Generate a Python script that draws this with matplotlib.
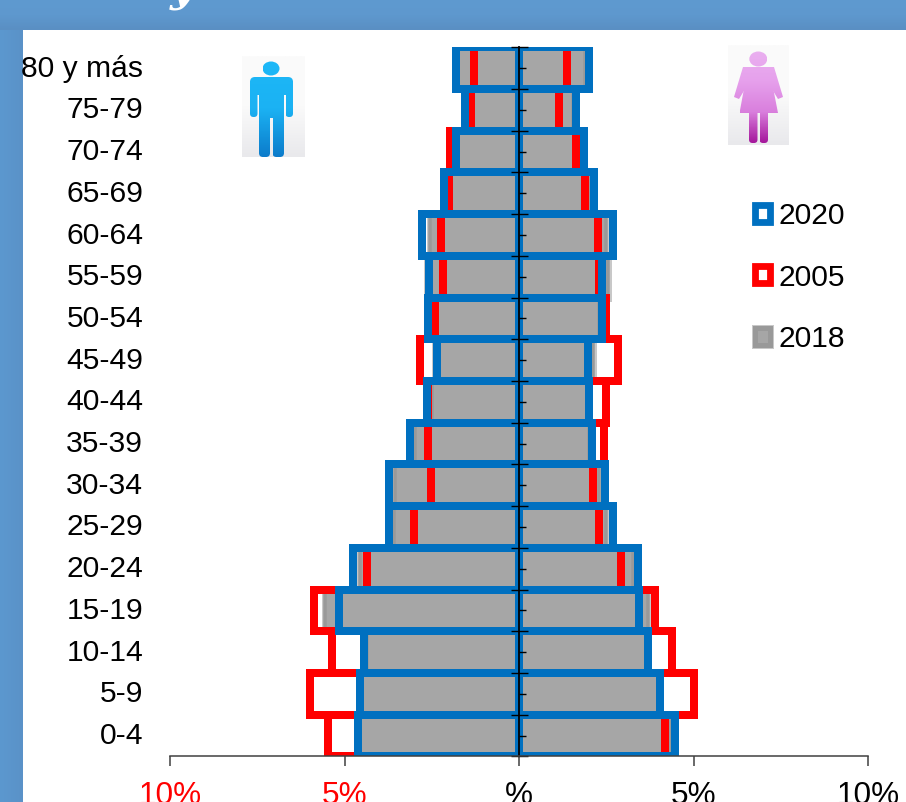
import numpy as np
import matplotlib
matplotlib.use("Agg")
import matplotlib.pyplot as plt
import matplotlib.patheffects as pe
from matplotlib.patches import Rectangle, FancyBboxPatch, Patch
from matplotlib.path import Path
from matplotlib.transforms import Affine2D, ScaledTranslation
from matplotlib.colors import LinearSegmentedColormap

plt.rcParams['font.family'] = ['Liberation Sans', 'DejaVu Sans']

age_groups = ['0-4', '5-9', '10-14', '15-19', '20-24', '25-29', '30-34', '35-39', '40-44',
              '45-49', '50-54', '55-59', '60-64', '65-69', '70-74', '75-79', '80 y más']
men_2020 = [4.63, 4.56, 4.44, 5.16, 4.76, 3.73, 3.72, 3.13, 2.65, 2.35, 2.60, 2.58, 2.79, 2.16, 1.80, 1.55, 1.82]
women_2020 = [4.46, 4.04, 3.70, 3.44, 3.41, 2.68, 2.45, 2.10, 2.00, 1.98, 2.37, 2.38, 2.68, 2.15, 1.86, 1.63, 2.00]
men_2005 = [5.47, 6.00, 5.36, 5.87, 4.35, 3.02, 2.54, 2.62, 2.60, 2.85, 2.42, 2.19, 2.23, 2.00, 1.99, 1.38, 1.30]
women_2005 = [4.17, 5.01, 4.38, 3.88, 2.91, 2.30, 2.12, 2.44, 2.50, 2.84, 2.48, 2.30, 2.26, 1.90, 1.62, 1.15, 1.36]
men_2018 = [4.55, 4.50, 4.35, 5.57, 4.57, 3.60, 3.55, 2.98, 2.50, 2.40, 2.55, 2.65, 2.56, 2.05, 1.75, 1.50, 1.75]
women_2018 = [4.35, 3.98, 3.65, 3.68, 3.25, 2.48, 2.30, 2.00, 2.00, 2.12, 2.30, 2.56, 2.50, 2.00, 1.75, 1.55, 1.90]
x_ticks = [-10, -5, 0, 5, 10]
x_tick_labels = ['10%', '5%', '%', '5%', '10%']
x_tick_colors = ['#FF0000', '#FF0000', '#000000', '#000000', '#000000']
series_names = ['2020', '2005', '2018']

BLUE = '#0070C0'
RED = '#FF0000'
GRAY = '#A6A6A6'
W, H = 906, 802
PX = 72 / 100

fig = plt.figure(figsize=(W / 100, H / 100), dpi=100, facecolor='#5B97CD')

# slide background
bg = fig.add_axes([0, 0, 1, 1], zorder=0)
bg.set_xlim(0, W)
bg.set_ylim(H, 0)
bg.axis('off')
cm_top = LinearSegmentedColormap.from_list('top', ['#5F9AD0', '#5E98CE', '#5A8FC3'])
bg.imshow(np.linspace(0, 1, 64).reshape(-1, 1), cmap=cm_top, extent=[0, W, 30, 0], aspect='auto', zorder=1)
cm_left = LinearSegmentedColormap.from_list('left', ['#5C98CF', '#5A92C8'])
bg.imshow(np.linspace(0, 1, 32).reshape(1, -1), cmap=cm_left, extent=[0, 23, H, 30], aspect='auto', zorder=1)
bg.add_patch(Rectangle((23, 30), W - 23, H - 30, fc='white', ec='none', zorder=2))
bg.text(182, 0, 'y', color='#FFFFFF', fontsize=30, fontweight='bold', fontstyle='italic',
        family=['DejaVu Serif'], ha='center', va='baseline', zorder=3, clip_on=False)


def rbox(x0, y0, x1, y1, r):
    return FancyBboxPatch((x0 + r, y0 + r), x1 - x0 - 2 * r, y1 - y0 - 2 * r,
                          boxstyle=f'round,pad={r},rounding_size={r}').get_path()


def oval(cx, cy, rx, ry):
    return Path.unit_circle().transformed(Affine2D().scale(rx, ry).translate(cx, cy))


def grad_fill(paths, colors, y0, y1):
    cm = LinearSegmentedColormap.from_list('g', colors)
    for p in paths:
        bbox = p.get_extents()
        im = bg.imshow(np.linspace(0, 1, 64).reshape(-1, 1), cmap=cm, vmin=0, vmax=1,
                       extent=[bbox.x0, bbox.x1, y1, y0], aspect='auto', zorder=4)
        im.set_clip_path(p, transform=bg.transData)


# man icon
cm_card = LinearSegmentedColormap.from_list('card', ['#FBFBFB', '#FAFAFA', '#E9E9EC'])
bg.imshow(np.linspace(0, 1, 64).reshape(-1, 1), cmap=cm_card, extent=[242, 305, 157, 56], aspect='auto', zorder=3)
man = [oval(271, 68.5, 8.5, 7),
       rbox(250, 77, 293, 95, 5),
       rbox(250, 80, 257.5, 117, 3.5),
       rbox(285.5, 80, 293, 117, 3.5),
       rbox(259, 80, 284, 118, 1),
       rbox(259, 110, 270, 157, 4),
       rbox(272.5, 110, 284, 157, 4)]
grad_fill(man, ['#1DB8F8', '#1BB2F3', '#0C7CCB'], 60, 157)

# woman icon
bg.imshow(np.linspace(0, 1, 64).reshape(-1, 1), cmap=cm_card, extent=[728, 789, 145, 45], aspect='auto', zorder=3)
woman = [oval(758.3, 59, 9, 7.5),
         Path([(748, 67), (769, 67), (778, 113), (739.5, 113), (748, 67)], closed=True),
         Path([(743, 67), (751, 67), (753, 76), (739, 99), (734, 97), (743, 67)], closed=True),
         Path([(766, 67), (774, 67), (783, 97), (778, 99), (764, 76), (766, 67)], closed=True),
         rbox(749, 108, 757.5, 143, 3.5),
         rbox(759.5, 108, 768, 143, 3.5)]
grad_fill(woman, ['#EAB0F0', '#E6A0EC', '#D97FDD', '#A5189C'], 50, 143)
bg.set_xlim(0, W)
bg.set_ylim(H, 0)

# pyramid
x_l, x_r, y_t, y_b = 170.3, 868.0, 47.3, 756.4
ax = fig.add_axes([x_l / W, 1 - y_b / H, (x_r - x_l) / W, (y_b - y_t) / H], zorder=1)
ax.patch.set_alpha(0)
y = np.arange(len(age_groups))
LW = 8 * PX
gray_halo = [pe.withStroke(linewidth=7 * PX, foreground='#C8C8C8')]


def bars(values, sign, **kw):
    return ax.barh(y, sign * np.array(values), height=1.0, **kw)


for vals, s in ((men_2018, -1), (women_2018, 1)):
    for b in bars(vals, s, color=GRAY, edgecolor='#999999', linewidth=3.5 * PX, zorder=1):
        b.set_path_effects(gray_halo)
for vals, s in ((men_2005, -1), (women_2005, 1)):
    bars(vals, s, color='none', edgecolor=RED, linewidth=LW, zorder=1.1)
for vals, s in ((men_2020, -1), (women_2020, 1)):
    bars(vals, s, color='none', edgecolor=BLUE, linewidth=LW, zorder=1.2)

ax.set_xlim(-10, 10)
ax.set_ylim(-0.5, len(age_groups) - 0.5)
for side in ('top', 'right'):
    ax.spines[side].set_visible(False)
ax.spines['left'].set_position(('data', 0))
ax.spines['left'].set_color('black')
ax.spines['left'].set_linewidth(1.3)
ax.spines['bottom'].set_color('#404040')
ax.spines['bottom'].set_linewidth(1.1)

ax.set_yticks(y, age_groups)
ax.set_yticks(np.arange(len(age_groups) + 1) - 0.5, minor=True)
ax.tick_params(axis='y', which='major', direction='in', length=7 * PX, width=1.0, color='black',
               pad=(519.5 - 143.5) * PX, labelsize=30 * PX, labelcolor='black')
ax.tick_params(axis='y', which='minor', direction='inout', length=17 * PX, width=1.0, color='black')
shift = ScaledTranslation(0, 2.5 / 100, fig.dpi_scale_trans)
for tick in ax.yaxis.get_major_ticks():
    tick.label1.set_transform(tick.label1.get_transform() + shift)
    tick.label1.set_verticalalignment('center_baseline')
ax.set_xticks(x_ticks, x_tick_labels)
ax.tick_params(axis='x', direction='out', length=10 * PX, width=1.1, color='#404040',
               pad=15 * PX, labelsize=31.5 * PX)
for lab, c in zip(ax.get_xticklabels(), x_tick_colors):
    lab.set_color(c)

handles = [Patch(fc='white', ec=BLUE, lw=6.8 * PX), Patch(fc='white', ec=RED, lw=6.8 * PX),
           Patch(fc=GRAY, ec='#999999', lw=5 * PX, path_effects=[pe.withStroke(linewidth=7 * PX, foreground='#C8C8C8')])]
leg = fig.legend(handles, series_names, loc='upper left',
                 bbox_to_anchor=(755 / W, 1 - 202 / H), bbox_transform=fig.transFigure,
                 frameon=False, fontsize=30 * PX, handlelength=0.5, handleheight=0.5,
                 handletextpad=0.27, labelspacing=1.117, borderpad=0, borderaxespad=0)

fig.savefig('out.png', dpi=100, facecolor=fig.get_facecolor())
